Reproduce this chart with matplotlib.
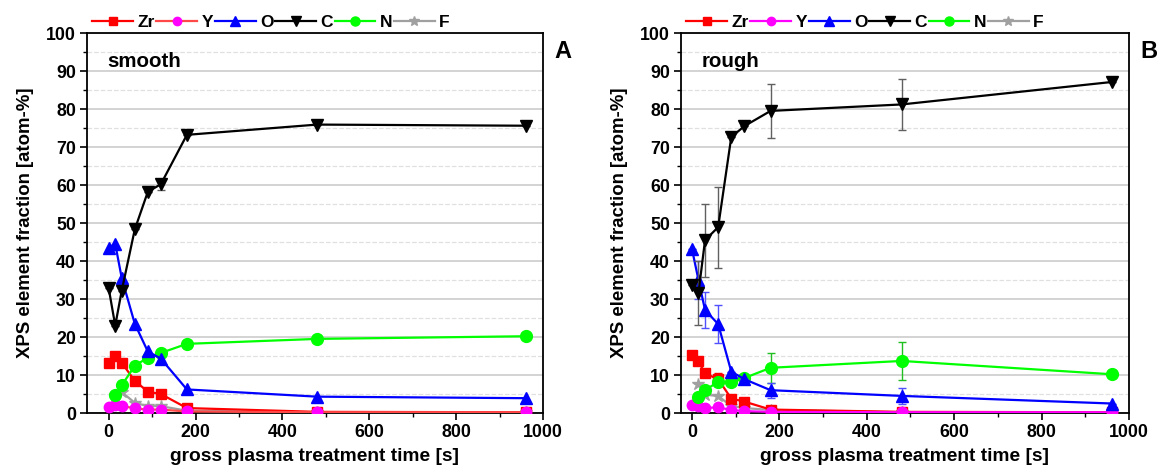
import matplotlib
matplotlib.use("Agg")
import matplotlib.pyplot as plt
from matplotlib.lines import Line2D
import numpy as np

plt.rcParams['font.family'] = ['Liberation Sans', 'DejaVu Sans']
plt.rcParams['font.weight'] = 'bold'

# ---- data ----
t_all = [0, 15, 30, 60, 90, 120, 180, 480, 960]
t_15 = [15, 30, 60, 90, 120, 180, 480, 960]

# Panel A (smooth)
zr_a = [13.1, 15.0, 13.2, 8.5, 5.6, 5.0, 1.3, 0.3, 0.2]
y_a = [1.7, 2.0, 1.9, 1.2, 0.9, 0.9, 0.4, 0.2, 0.2]
o_a = [43.5, 44.5, 35.5, 23.5, 16.2, 14.3, 6.2, 4.3, 3.9]
c_a = [32.8, 23.0, 32.2, 48.3, 58.2, 60.2, 73.2, 75.9, 75.6]
c_a_err = [0, 0, 0, 0, 0, 1.5, 0, 0, 0]
n_a = [4.7, 7.3, 12.4, 14.6, 15.8, 18.2, 19.5, 20.2]
f_a = [4.8, 5.5, 2.7, 1.8, 1.8, 0.6, 0.2, 0.2]

# Panel B (rough)
zr_b = [15.3, 13.6, 10.4, 8.9, 3.8, 3.0, 0.9, 0.3, 0.2]
zr_b_err = [0, 0, 0, 1.5, 0, 0, 0, 0, 0]
y_b = [2.0, 1.8, 1.3, 1.5, 0.8, 0.5, 0.3, 0.2, 0.2]
o_b = [43.2, 35.0, 27.1, 23.4, 10.9, 8.9, 6.0, 4.5, 2.5]
o_b_err = [0, 5.0, 4.7, 4.9, 0, 0, 2.0, 2.0, 0]
c_b = [33.7, 31.6, 45.5, 48.9, 72.6, 75.5, 79.5, 81.2, 87.1]
c_b_err = [0, 8.5, 9.6, 10.7, 0, 0, 7.2, 6.8, 0]
n_b = [4.3, 6.0, 8.2, 8.2, 9.2, 11.9, 13.7, 10.2]
n_b_err = [0, 0, 0, 0, 0, 3.9, 5.0, 0]
f_b = [7.6, 4.8, 4.5, 1.8, 1.3, 0.8, 0.2, 0.2]

RED = '#ff0000'
MAG = '#ff00ff'
BLUE = '#0000ff'
GREEN = '#00ff00'
GRAY = '#a0a0a0'

fig = plt.figure(figsize=(11.58, 4.71), dpi=100)
W, H = 1158, 471
axA = fig.add_axes([87 / W, 1 - 413 / H, (543 - 87) / W, (413 - 33) / H])
axB = fig.add_axes([681 / W, 1 - 413 / H, (1129 - 681) / W, (413 - 33) / H])


def draw(ax, xmin, zr, zr_err, yv, yline, o, o_err, c, c_err, n, n_err, f, label, letter):
    ms = 7.5
    lw = 1.6
    kw = dict(capsize=3, elinewidth=1.0, capthick=1.0)
    ax.errorbar(t_15, f, color=GRAY, marker='*', ms=9, lw=lw, ls='-', zorder=3)
    ax.errorbar(t_all, zr, yerr=zr_err, color=RED, marker='s', ms=ms, lw=lw,
                ecolor=RED, zorder=4, **kw)
    ax.errorbar(t_all, yv, color=yline, marker='o', mfc=MAG, mec=MAG, ms=ms, lw=lw, zorder=4)
    ax.errorbar(t_all, o, yerr=o_err, color=BLUE, marker='^', ms=ms + 1, lw=lw,
                ecolor='#5050ff', zorder=5, **kw)
    ax.errorbar(t_all, c, yerr=c_err, color='black', marker='v', ms=ms + 1, lw=lw,
                ecolor='#606060', zorder=6, **kw)
    ax.errorbar(t_15, n, yerr=n_err, color=GREEN, marker='o', ms=ms + 1, lw=lw,
                ecolor='#20c020', zorder=4, **kw)

    ax.set_xlim(xmin, 1000)
    ax.set_ylim(0, 100)
    ax.set_xticks(np.arange(0, 1001, 200))
    ax.set_xticks(np.arange(100, 1000, 200), minor=True)
    ax.set_yticks(np.arange(0, 101, 10))
    ax.set_yticks(np.arange(5, 100, 10), minor=True)
    ax.yaxis.grid(True, which='major', color='#cccccc', lw=1.2, zorder=0)
    ax.yaxis.grid(True, which='minor', color='#e0e0e0', lw=0.9, ls='--', zorder=0)
    ax.set_axisbelow(True)
    ax.tick_params(which='major', direction='out', length=5, width=1.2, labelsize=12.8,
                   top=False, right=False, pad=3)
    ax.tick_params(which='minor', direction='out', length=3, width=1.0, top=False, right=False)
    for lab in ax.get_xticklabels() + ax.get_yticklabels():
        lab.set_fontweight('bold')
    for sp in ax.spines.values():
        sp.set_linewidth(1.3)
    ax.set_xlabel('gross plasma treatment time [s]', fontsize=13.8, fontweight='bold', labelpad=5)
    ax.set_ylabel('XPS element fraction [atom-%]', fontsize=13.4, fontweight='bold', labelpad=9)
    ax.text(0.045, 0.925, label, transform=ax.transAxes, fontsize=14.8, fontweight='bold',
            va='center', ha='left')
    ax.text(1.025, 0.95, letter, transform=ax.transAxes, fontsize=17, fontweight='bold',
            va='center', ha='left')

    specs = [('Zr', RED, 's', RED, 6), ('Y', yline, 'o', MAG, 6), ('O', BLUE, '^', BLUE, 6.5),
             ('C', 'black', 'v', 'black', 6.5), ('N', GREEN, 'o', GREEN, 6.5),
             ('F', GRAY, '*', GRAY, 7.5)]
    handles = [Line2D([], [], color=col, marker=m, mfc=mc, mec=mc, ms=s, lw=1.6)
               for (_, col, m, mc, s) in specs]
    ax.legend(handles, [s[0] for s in specs], loc='lower left', bbox_to_anchor=(0.0, 0.995),
              ncol=6, frameon=False, handlelength=2.35, handletextpad=0.25,
              columnspacing=0.1, borderaxespad=0.1, borderpad=0.2,
              prop={'weight': 'bold', 'size': 12.5})


draw(axA, -50, zr_a, None, y_a, '#ff4848', o_a, None, c_a, c_a_err, n_a, None, f_a, 'smooth', 'A')
draw(axB, -25, zr_b, zr_b_err, y_b, MAG, o_b, o_b_err, c_b, c_b_err, n_b, n_b_err, f_b, 'rough', 'B')

fig.savefig('out.png', dpi=100)
